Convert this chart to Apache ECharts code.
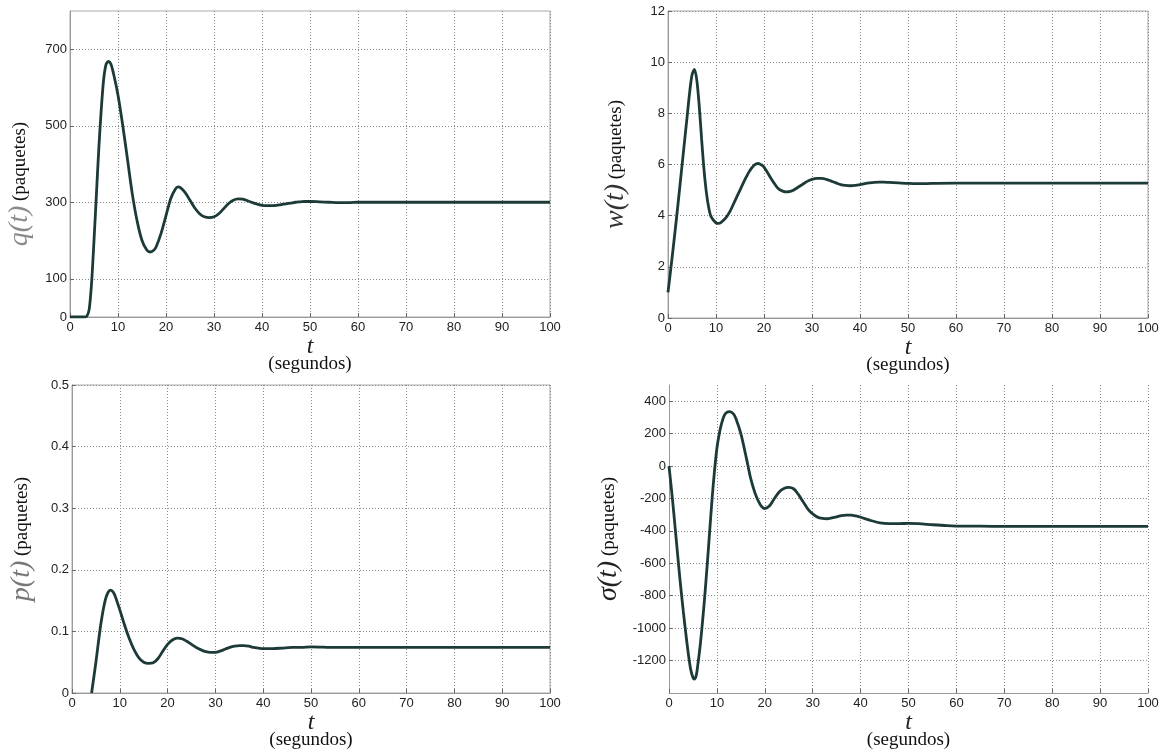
<!DOCTYPE html>
<html>
<head>
<meta charset="utf-8">
<script src="https://cdn.jsdelivr.net/npm/echarts@6/dist/echarts.min.js"></script>
<style>
  html, body { margin: 0; padding: 0; background: #fff; }
  #chart { width: 1169px; height: 755px; }
</style>
</head>
<body>
<div id="chart"></div>
<script>
// q(t) - cola (paquetes)
var qT = [0, 1, 2, 3, 3.5, 4, 4.5, 5, 5.5, 6, 6.5, 7, 7.5, 8, 8.5, 9, 10, 11, 12, 13, 14, 15, 16, 16.7, 17.5, 18, 19, 20, 21, 22, 22.5, 23, 24, 25, 26, 27, 28, 29, 30, 31, 32, 33, 34, 35, 36, 37, 38, 39, 40, 41, 42, 43, 44, 45, 46, 47, 48, 49, 50, 52, 54, 56, 58, 60, 100];
var qV = [0, 0, 0, 0, 2, 20, 90, 200, 320, 440, 540, 620, 660, 668, 662, 640, 580, 500, 410, 320, 250, 200, 175, 170, 175, 185, 220, 265, 310, 335, 340, 338, 325, 305, 285, 270, 262, 260, 262, 270, 283, 296, 305, 309, 308, 304, 299, 295, 292, 291, 291, 292, 294, 296, 298, 300, 301, 302, 302, 301, 300, 299, 299, 300, 300];
// w(t) - ventana (paquetes)
var wT = [0, 1, 2, 3, 4, 4.5, 5, 5.5, 6, 6.5, 7, 7.5, 8, 8.5, 9, 10, 10.5, 11, 12, 13, 14, 15, 16, 17, 18, 18.8, 19.5, 20, 21, 22, 23, 24, 24.7, 25.5, 26, 27, 28, 29, 30, 31, 32, 33, 34, 35, 36, 37, 38, 39, 40, 41, 42, 43, 44, 45, 46, 48, 50, 52, 55, 60, 100];
var wV = [1.0, 2.6, 4.3, 6.1, 7.9, 8.8, 9.5, 9.72, 9.3, 8.3, 7.0, 5.8, 4.9, 4.3, 3.95, 3.72, 3.7, 3.73, 3.9, 4.2, 4.6, 5.0, 5.4, 5.75, 5.98, 6.04, 5.98, 5.9, 5.6, 5.3, 5.05, 4.95, 4.93, 4.95, 4.98, 5.1, 5.22, 5.34, 5.42, 5.46, 5.46, 5.42, 5.35, 5.28, 5.21, 5.18, 5.17, 5.18, 5.21, 5.25, 5.28, 5.3, 5.31, 5.31, 5.3, 5.28, 5.26, 5.25, 5.26, 5.27, 5.27];
// p(t) - probabilidad de marcado
var pT = [4.1, 5, 6, 7, 8, 8.5, 9, 10, 11, 12, 13, 14, 15, 16, 17, 18, 19, 20, 21, 22, 23, 24, 25, 26, 27, 28, 29, 30, 31, 32, 33, 34, 35, 36, 37, 38, 39, 40, 42, 44, 46, 48, 50, 55, 60, 100];
var pV = [0, 0.05, 0.11, 0.152, 0.167, 0.165, 0.158, 0.135, 0.11, 0.088, 0.07, 0.057, 0.05, 0.048, 0.049, 0.056, 0.068, 0.079, 0.086, 0.089, 0.088, 0.084, 0.079, 0.074, 0.07, 0.067, 0.066, 0.066, 0.068, 0.071, 0.074, 0.076, 0.077, 0.077, 0.076, 0.074, 0.073, 0.072, 0.072, 0.073, 0.074, 0.074, 0.075, 0.074, 0.074, 0.074];
// sigma(t)
var sT = [0, 0.5, 1, 1.5, 2, 2.5, 3, 3.5, 4, 4.5, 5, 5.3, 5.7, 6, 6.5, 7, 7.5, 8, 8.5, 9, 9.5, 10, 10.5, 11, 11.5, 12, 12.7, 13.5, 14, 15, 16, 16.5, 17, 18, 19, 20, 21, 22, 23, 24, 25, 26, 27, 28, 29, 30, 31, 32, 33, 34, 35, 36, 37, 38, 39, 40, 42, 44, 46, 48, 50, 52, 55, 58, 60, 65, 70, 100];
var sV = [0, -140, -290, -450, -610, -760, -900, -1030, -1150, -1250, -1305, -1315, -1290, -1230, -1110, -960, -790, -600, -400, -200, -30, 110, 200, 265, 310, 330, 336, 320, 290, 200, 70, 0, -70, -170, -235, -262, -245, -200, -160, -138, -132, -140, -175, -220, -265, -295, -315, -323, -325, -320, -313, -306, -303, -303, -308, -316, -335, -350, -355, -355, -354, -355, -362, -368, -370, -371, -372, -372];

var xTicks = [0, 100, 10];
var qTicks = [0, 100, 300, 500, 700];
var wTicks = [0, 2, 4, 6, 8, 10, 12];
var pTicks = [0, 0.1, 0.2, 0.3, 0.4, 0.5];
var sTicks = [-1200, -1000, -800, -600, -400, -200, 0, 200, 400];

function pares(t, v) {
  return t.map(function (x, i) { return [x, v[i]]; });
}

var lineColor = '#1c3a38';
var gridLine = { show: true, lineStyle: { color: '#8a8a8a', type: [1, 2], width: 1 } };
var labelFont = {
  fontFamily: 'Liberation Sans', fontSize: 13, color: '#222',
  formatter: function (v) { return String(v); }
};

var xName = {
  name: '{t|t}\n{s|(segundos)}',
  nameLocation: 'middle',
  nameGap: 12,
  nameTextStyle: {
    rich: {
      t: { fontFamily: 'Liberation Serif', fontStyle: 'italic', fontSize: 24, lineHeight: 17, color: '#222', align: 'center' },
      s: { fontFamily: 'Liberation Serif', fontSize: 19, lineHeight: 17, color: '#111', align: 'center' }
    }
  }
};

function eje(idx) {
  return Object.assign({
    type: 'value', gridIndex: idx, min: xTicks[0], max: xTicks[1], interval: xTicks[2],
    axisLine: { onZero: false, lineStyle: { color: '#999' } },
    axisTick: { inside: true, length: 4, lineStyle: { color: '#666' } },
    axisLabel: Object.assign({ margin: 4 }, labelFont),
    splitLine: gridLine
  }, xName);
}

function ejeY(idx, min, max, ticks, nombre, colorNombre, gap, despl) {
  return {
    type: 'value', gridIndex: idx, min: min, max: max,
    axisLine: { show: true, onZero: false, lineStyle: { color: '#999' } },
    axisTick: { show: true, inside: true, length: 4, lineStyle: { color: '#666' }, customValues: ticks },
    axisLabel: Object.assign({ margin: 3, customValues: ticks }, labelFont),
    splitLine: gridLine,
    name: '{a|' + nombre + '}{b| (paquetes)}',
    nameLocation: 'middle',
    nameRotate: 90,
    nameGap: gap,
    nameTextStyle: {
      padding: [0, despl, 0, 0],
      rich: {
        a: { fontFamily: 'Liberation Serif', fontStyle: 'italic', fontSize: 28, color: colorNombre },
        b: { fontFamily: 'Liberation Serif', fontSize: 19, color: '#111' }
      }
    }
  };
}

function serie(idx, t, v) {
  return {
    type: 'line', xAxisIndex: idx, yAxisIndex: idx,
    data: pares(t, v), showSymbol: false, smooth: 0.3,
    lineStyle: { color: lineColor, width: 2.8 },
    clip: true
  };
}

var chart = echarts.init(document.getElementById('chart'), null, { renderer: 'canvas' });
chart.setOption({
  backgroundColor: '#fff',
  animation: false,
  grid: [
    { left: 70, top: 11, width: 480, height: 306, show: true, borderColor: '#aaa', borderWidth: 1 },
    { left: 668, top: 11, width: 480, height: 307, show: true, borderColor: '#aaa', borderWidth: 1 },
    { left: 72, top: 385, width: 478, height: 308, show: true, borderColor: '#aaa', borderWidth: 1 },
    { left: 669, top: 385, width: 479, height: 308 }
  ],
  xAxis: [eje(0), eje(1), eje(2), eje(3)],
  yAxis: [
    ejeY(0, 0, 800, qTicks, 'q(t)', '#8a8a8a', 36, 40),
    ejeY(1, 0, 12, wTicks, 'w(t)', '#333', 38, 0),
    ejeY(2, 0, 0.5, pTicks, 'p(t)', '#777', 36, 0),
    ejeY(3, -1400, 500, sTicks, 'σ(t)', '#222', 46, 0)
  ],
  series: [
    serie(0, qT, qV),
    serie(1, wT, wV),
    serie(2, pT, pV),
    serie(3, sT, sV)
  ]
});
</script>
</body>
</html>
